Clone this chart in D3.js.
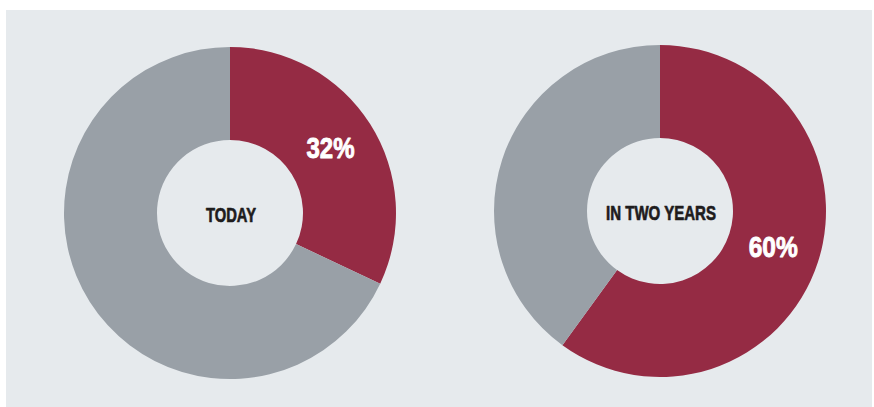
<!DOCTYPE html>
<html>
<head>
<meta charset="utf-8">
<script src="https://cdn.jsdelivr.net/npm/d3@7"></script>
<style>
  html, body { margin: 0; padding: 0; background: #ffffff; }
  svg { display: block; }
</style>
</head>
<body>
<svg id="chart" width="874" height="407"></svg>
<script>
// Share of respondents, now and expected in two years
const periods = ["TODAY", "IN TWO YEARS"];
const shareValues = [32, 60];
const shareLabels = ["32%", "60%"];

const W = 874, H = 407;
const svg = d3.select("#chart");

const panelColor = "#e6eaed";
const accent = "#952b44";
const rest = "#99a0a7";

svg.append("rect")
  .attr("x", 6).attr("y", 10)
  .attr("width", 866).attr("height", H - 10)
  .attr("fill", panelColor);

const centers = [{ x: 230, y: 213 }, { x: 660, y: 211 }];
const outerR = 166, innerR = 73;

const pie = d3.pie().sort(null).value(d => d.value);
const arc = d3.arc().innerRadius(innerR).outerRadius(outerR);
const labelArc = d3.arc().innerRadius(119).outerRadius(119);

const font = "'Liberation Sans', Arial, sans-serif";

// Squeeze a heavy bold text to a condensed width
function condense(sel, width, color, weight) {
  sel.attr("textLength", width)
    .attr("lengthAdjust", "spacingAndGlyphs")
    .attr("fill", color)
    .attr("stroke", color)
    .attr("stroke-width", weight)
    .attr("stroke-linejoin", "round");
}

const nameWidths = [50, 110];
const valueWidths = [48, 49];

periods.forEach((name, i) => {
  const parts = [
    { key: "share", value: shareValues[i] },
    { key: "other", value: 100 - shareValues[i] }
  ];
  const g = svg.append("g")
    .attr("transform", `translate(${centers[i].x},${centers[i].y})`);

  const slices = pie(parts);
  g.selectAll("path")
    .data(slices)
    .join("path")
    .attr("d", arc)
    .attr("fill", d => d.data.key === "share" ? accent : rest);

  g.append("text")
    .attr("x", 1).attr("y", 9)
    .attr("text-anchor", "middle")
    .attr("font-family", font)
    .attr("font-weight", "bold")
    .attr("font-size", 21)
    .call(condense, nameWidths[i], "#1e1c1d", 0.7)
    .text(name);

  const c = labelArc.centroid(slices[0]);
  g.append("text")
    .attr("x", c[0]).attr("y", c[1] + 9)
    .attr("text-anchor", "middle")
    .attr("font-family", font)
    .attr("font-weight", "bold")
    .attr("font-size", 30)
    .call(condense, valueWidths[i], "#ffffff", 0.9)
    .text(shareLabels[i]);
});
</script>
</body>
</html>
